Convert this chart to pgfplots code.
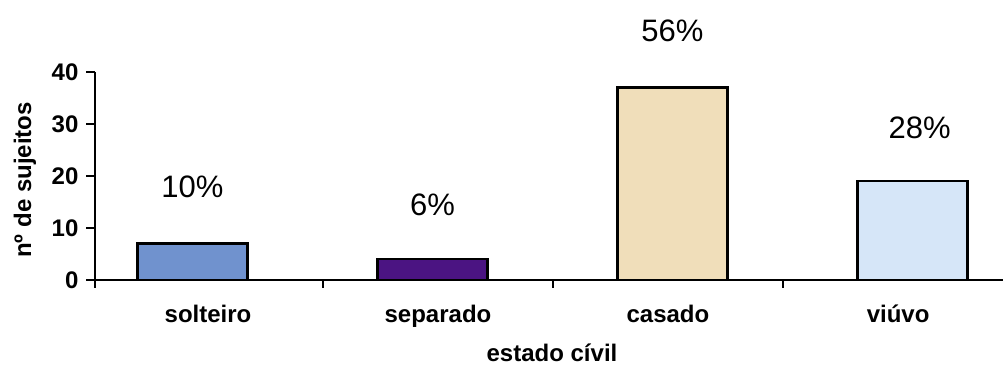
\documentclass[border=0pt]{standalone}
\usepackage{pgfplots}
\pgfplotsset{compat=1.18}
\usepackage{fontspec}
\setmainfont{Liberation Sans}

\definecolor{cSolteiro}{RGB}{112,146,206}
\definecolor{cSeparado}{RGB}{75,20,130}
\definecolor{cCasado}{RGB}{240,222,186}
\definecolor{cViuvo}{RGB}{214,230,248}

\newcommand{\lblfont}{\fontsize{12}{14}\selectfont\bfseries}
\newcommand{\pctfont}{\fontsize{15.5}{18}\selectfont}

\begin{document}
\begin{tikzpicture}
% overall page size
\path[use as bounding box] (-47.5pt,-43.5pt) rectangle (454pt,140pt);
\begin{axis}[
  name=ax,
  at={(0,0)}, anchor=south west,
  scale only axis,
  width=454pt, height=104pt,
  xmin=-0.406, xmax=3.377,
  ymin=0, ymax=40,
  clip=false,
  axis x line=none, axis y line=none,
  ytick=\empty, xtick=\empty,
]
\addplot[ybar, bar width=55pt, draw=black, line width=1.2pt, fill=cSolteiro] coordinates {(0,7)};
\addplot[ybar, bar width=55pt, draw=black, line width=1.2pt, fill=cSeparado] coordinates {(1,4)};
\addplot[ybar, bar width=55pt, draw=black, line width=1.2pt, fill=cCasado] coordinates {(2,37)};
\addplot[ybar, bar width=55pt, draw=black, line width=1.2pt, fill=cViuvo] coordinates {(3,19)};

% reference points for the frame, ticks and names
\coordinate (o) at (axis cs:-0.406,0);
\coordinate (top) at (axis cs:-0.406,40);
\coordinate (r) at (axis cs:3.377,0);
\coordinate (y10) at (axis cs:-0.406,10);
\coordinate (y20) at (axis cs:-0.406,20);
\coordinate (y30) at (axis cs:-0.406,30);
\coordinate (s1) at (axis cs:0.544,0);
\coordinate (s2) at (axis cs:1.502,0);
\coordinate (s3) at (axis cs:2.46,0);
\coordinate (c0) at (axis cs:0.065,0);
\coordinate (c1) at (axis cs:1.023,0);
\coordinate (c2) at (axis cs:1.981,0);
\coordinate (c3) at (axis cs:2.94,0);
\coordinate (cx) at (axis cs:1.498,0);

% shares
\node[font=\pctfont] at (axis cs:0,17.9) {10\%};
\node[font=\pctfont] at (axis cs:1,14.5) {6\%};
\node[font=\pctfont] at (axis cs:2,48) {56\%};
\node[font=\pctfont] at (axis cs:3.03,29.3) {28\%};
\end{axis}

% axis lines
\draw[line width=1.4pt] (o) -- (r);
\draw[line width=1.4pt] (top) -- ([yshift=-4pt]o);
% y ticks
\foreach \p/\lab in {o/0,y10/10,y20/20,y30/30,top/40}{
  \draw[line width=1.2pt] (\p) -- ++(-4.5pt,0)
    node[left, inner sep=3.2pt, font=\lblfont] {\lab};
}
% x ticks between categories
\foreach \p in {s1,s2,s3}{
  \draw[line width=1.2pt] (\p) -- ++(0,-4pt);
}

% category names
\node[font=\lblfont, anchor=base] at ([yshift=-21.5pt]c0) {solteiro};
\node[font=\lblfont, anchor=base] at ([yshift=-21.5pt]c1) {separado};
\node[font=\lblfont, anchor=base] at ([yshift=-21.5pt]c2) {casado};
\node[font=\lblfont, anchor=base] at ([yshift=-21.5pt]c3) {viúvo};

% axis titles
\node[font=\lblfont, anchor=base] at ([yshift=-41pt]cx) {estado cívil};
\node[font=\lblfont, rotate=90] at ([xshift=-35pt,yshift=-2pt]ax.west) {nº de sujeitos};
\end{tikzpicture}
\end{document}
